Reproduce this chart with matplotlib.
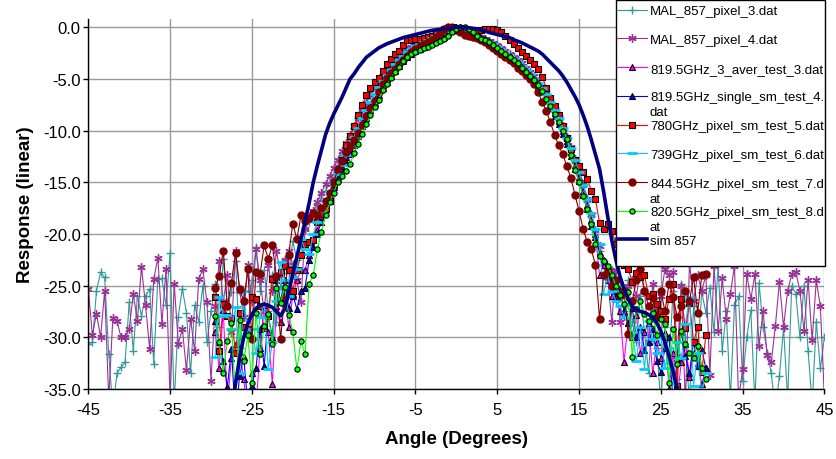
import numpy as np
import matplotlib
matplotlib.use("Agg")
import matplotlib.pyplot as plt
from matplotlib.ticker import FormatStrFormatter
from matplotlib.patches import Rectangle

plt.rcParams['font.family'] = ['Liberation Sans', 'DejaVu Sans']
plt.rcParams['axes.unicode_minus'] = False

# angle grids (degrees)
ang_mal = np.arange(-45, 45.01, 0.5)
ang_test = np.arange(-29.5, 30.51, 0.5)
ang_sim = np.arange(-27.5, 27.51, 0.5)

# MAL_857_pixel_3.dat
mal3 = [-30.6, -30.5, -25.5, -23.7, -24.2, -31.6, -37.0, -33.5, -32.9, -32.4,
        -26.6, -31.3, -26.0, -27.9, -26.0, -25.3, -32.6, -24.4, -24.3, -26.9,
        -21.8, -36.5, -28.0, -25.3, -27.6, -33.5, -26.9, -28.5, -25.0, -30.5,
        -27.5, -24.8, -29.0, -22.4, -27.0, -25.6, -22.6, -31.0, -26.5, -29.5,
        -24.5, -21.3, -25.5, -23.5, -27.5, -24.0, -28.5, -25.0, -22.5, -23.8,
        -20.7, -22.5, -21.0, -19.5, -18.8, -18.0, -17.2, -16.5, -15.8, -15.0,
        -14.2, -13.3, -12.4, -11.5, -10.6, -9.7, -8.8, -8.0, -7.2, -6.5,
        -5.8, -5.2, -4.6, -4.1, -3.6, -3.2, -2.8, -2.4, -2.1, -1.8,
        -1.6, -1.4, -1.2, -1.0, -0.8, -0.6, -0.4, -0.2, -0.1, 0.0,
        -0.1, -0.3, -0.5, -0.7, -0.8, -0.9, -1.0, -1.2, -1.4, -1.6,
        -1.8, -2.1, -2.4, -2.7, -3.0, -3.3, -3.7, -4.1, -4.5, -4.9,
        -5.4, -6.0, -6.7, -7.4, -8.2, -9.0, -9.9, -10.9, -11.9, -13.0,
        -14.2, -15.5, -16.9, -18.4, -20.0, -21.6, -23.0, -24.5, -23.5, -26.5,
        -25.0, -27.5, -24.5, -28.5, -30.5, -26.0, -29.5, -33.5, -27.0, -31.0,
        -36.5, -29.0, -32.5, -25.5, -34.0, -24.8, -30.0, -36.5, -27.0, -31.5,
        -25.6, -27.6, -25.2, -29.5, -23.1, -31.3, -27.5, -36.0, -26.9, -26.0,
        -34.2, -30.0, -27.4, -36.5, -24.7, -29.0, -31.5, -33.5, -37.0, -33.7,
        -29.1, -36.0, -25.0, -25.8, -30.0, -25.0, -31.3, -36.5, -28.5, -33.0,
        -30.0]

# MAL_857_pixel_4.dat
mal4 = [-25.3, -29.8, -27.7, -30.0, -25.5, -36.0, -28.1, -28.4, -30.0, -30.0,
        -29.2, -25.8, -28.4, -23.2, -26.9, -31.1, -24.4, -22.3, -28.7, -23.4,
        -36.0, -24.8, -30.6, -29.2, -33.2, -28.2, -31.3, -24.4, -23.4, -26.6,
        -34.2, -27.0, -22.6, -26.5, -24.0, -29.5, -21.6, -25.5, -28.0, -23.0,
        -26.5, -21.5, -24.5, -27.5, -23.0, -25.5, -21.6, -24.0, -22.5, -21.6,
        -23.0, -24.5, -26.6, -19.5, -18.5, -17.8, -16.9, -16.0, -15.2, -14.4,
        -13.6, -12.8, -12.0, -11.2, -10.4, -9.6, -8.8, -8.0, -7.3, -6.6,
        -5.9, -5.3, -4.7, -4.2, -3.7, -3.3, -2.9, -2.5, -2.2, -1.9,
        -1.7, -1.5, -1.3, -1.1, -0.9, -0.7, -0.5, -0.3, -0.1, 0.0,
        -0.1, -0.2, -0.4, -0.6, -0.7, -0.8, -0.9, -1.1, -1.3, -1.5,
        -1.7, -2.0, -2.3, -2.6, -2.9, -3.2, -3.5, -3.9, -4.3, -4.7,
        -5.2, -5.8, -6.4, -7.1, -7.9, -8.7, -9.6, -10.6, -11.6, -12.7,
        -13.9, -15.2, -16.6, -18.1, -19.6, -21.2, -22.8, -24.2, -28.5, -23.5,
        -28.5, -27.9, -25.0, -24.5, -26.0, -23.6, -25.5, -30.5, -24.8, -27.5,
        -26.0, -23.4, -24.0, -23.7, -31.8, -25.0, -36.5, -22.8, -26.5, -24.0,
        -25.5, -24.0, -33.6, -23.1, -29.4, -24.3, -28.2, -25.8, -23.1, -36.0,
        -33.1, -23.9, -26.3, -23.9, -30.8, -27.5, -31.7, -32.4, -28.9, -24.6,
        -29.0, -25.5, -23.9, -23.7, -25.5, -29.4, -24.5, -30.3, -24.5, -27.0,
        -36.0]

# 819.5GHz_3_aver_test_3.dat
aver3 = [-29.5, -33.0, -27.4, -36.5, -32.0, -30.6, -31.4, -34.0, -38.0, -33.5,
         -37.0, -31.0, -26.9, -29.5, -34.5, -27.0, -28.5, -25.5, -29.0, -26.0,
         -24.5, -23.5, -23.5, -22.0, -20.5, -19.6, -18.4, -17.2, -16.2, -15.3,
         -14.4, -13.5, -12.6, -11.8, -11.0, -10.1, -9.2, -8.4, -7.6, -6.9,
         -6.2, -5.6, -5.0, -4.4, -3.9, -3.5, -3.1, -2.7, -2.4, -2.1,
         -1.9, -1.7, -1.5, -1.3, -1.1, -0.9, -0.7, -0.4, -0.2, 0.0,
         0.0, -0.2, -0.4, -0.7, -0.9, -1.0, -1.2, -1.4, -1.6, -1.9,
         -2.2, -2.5, -2.8, -3.1, -3.4, -3.8, -4.2, -4.6, -5.0, -5.5,
         -6.1, -6.8, -7.5, -8.3, -9.1, -10.0, -11.0, -12.1, -13.3, -14.5,
         -15.8, -17.2, -18.6, -20.0, -24.0, -23.0, -24.5, -26.0, -25.5, -27.5,
         -32.4, -28.6, -30.0, -27.8, -31.5, -29.5, -28.6, -33.5, -30.5, -32.0,
         -29.6, -35.0, -31.5, -36.0, -32.4, -30.6, -33.8, -31.5, -32.5, -34.5,
         -33.0]

# 819.5GHz_single_sm_test_4.dat
single4 = [-28.4, -30.5, -32.3, -34.8, -31.1, -38.0, -33.7, -31.9, -36.5, -34.7,
           -33.0, -29.2, -32.8, -27.9, -30.0, -24.5, -26.5, -24.5, -27.2, -25.8,
           -27.3, -25.5, -25.2, -22.5, -21.3, -20.0, -18.8, -17.5, -16.4, -15.5,
           -14.6, -13.8, -13.0, -12.3, -11.4, -10.5, -9.6, -8.8, -8.0, -7.3,
           -6.6, -5.9, -5.3, -4.7, -4.2, -3.7, -3.3, -2.9, -2.6, -2.3,
           -2.1, -1.9, -1.7, -1.5, -1.3, -1.1, -0.9, -0.6, -0.3, -0.1,
           0.0, -0.1, -0.3, -0.6, -0.9, -1.0, -1.1, -1.3, -1.6, -1.9,
           -2.2, -2.5, -2.8, -3.1, -3.5, -3.9, -4.3, -4.7, -5.2, -5.7,
           -6.3, -7.0, -7.8, -8.6, -9.4, -10.3, -11.3, -12.5, -13.7, -14.9,
           -16.2, -17.6, -19.2, -20.3, -21.8, -22.5, -23.6, -24.5, -26.0, -25.4,
           -27.5, -28.6, -27.2, -30.0, -29.0, -31.2, -30.5, -29.2, -32.3, -33.4,
           -31.0, -30.0, -36.5, -32.0, -29.5, -31.8, -33.5, -30.4, -32.8, -31.2,
           -33.0]

# 780GHz_pixel_sm_test_5.dat
ghz780 = [-26.1, -31.3, -26.8, -27.9, -28.1, -31.5, -27.6, -29.0, -29.2, -26.1,
          -26.3, -27.0, -29.1, -27.9, -24.4, -24.2, -23.7, -23.1, -23.5, -25.5,
          -23.5, -22.0, -21.0, -20.8, -20.6, -18.8, -18.1, -17.6, -16.8, -15.2,
          -13.9, -12.8, -11.4, -10.5, -9.6, -8.5, -7.5, -6.6, -5.9, -5.3,
          -4.9, -4.2, -3.6, -3.1, -2.6, -2.3, -1.7, -1.2, -1.2, -1.1,
          -1.1, -1.0, -0.9, -0.8, -0.6, -0.4, -0.2, -0.05, 0.0, -0.2,
          -0.4, -0.6, -0.7, -0.6, -0.4, -0.3, -0.2, -0.2, -0.15, -0.25,
          -0.5, -0.8, -1.2, -1.6, -2.0, -2.4, -2.8, -3.2, -3.6, -4.0,
          -4.8, -5.9, -6.8, -7.6, -8.5, -9.6, -10.7, -11.8, -12.8, -13.4,
          -14.0, -14.7, -15.8, -16.6, -18.9, -19.5, -19.0, -19.7, -21.0, -22.7,
          -23.0, -23.4, -24.6, -23.8, -24.2, -24.0, -26.0, -25.8, -26.8, -27.5,
          -28.2, -26.3, -24.8, -34.7, -26.3, -29.1, -26.7, -30.5, -29.0, -33.4,
          -29.8]

# 739GHz_pixel_sm_test_6.dat
ghz739 = [-31.9, -26.1, -27.9, -27.8, -29.2, -27.1, -33.5, -25.5, -29.8, -29.2,
          -31.5, -28.0, -26.8, -33.1, -30.5, -26.5, -22.7, -24.5, -26.0, -24.2,
          -23.4, -20.5, -21.5, -21.9, -20.0, -18.8, -17.8, -16.8, -15.8, -15.0,
          -14.2, -13.3, -12.4, -11.5, -10.6, -9.7, -8.8, -8.0, -7.2, -6.5,
          -5.8, -5.2, -4.6, -4.1, -3.6, -3.2, -2.8, -2.4, -2.1, -1.8,
          -1.6, -1.4, -1.2, -1.0, -0.8, -0.6, -0.4, -0.2, 0.0, -0.1,
          -0.3, -0.5, -0.8, -0.9, -1.0, -1.1, -1.2, -1.4, -1.6, -1.9,
          -2.2, -2.5, -2.8, -3.1, -3.4, -3.7, -4.1, -4.5, -4.9, -5.4,
          -5.9, -6.5, -7.2, -8.0, -8.8, -9.7, -10.7, -11.7, -12.8, -14.0,
          -15.3, -16.6, -18.0, -19.5, -21.0, -25.8, -24.0, -25.5, -26.5, -27.0,
          -28.0, -26.8, -29.5, -32.3, -29.0, -33.1, -28.4, -30.2, -31.5, -29.8,
          -33.0, -31.0, -34.5, -30.5, -32.0, -28.7, -26.1, -34.7, -31.5, -35.5,
          -33.5]

# 844.5GHz_pixel_sm_test_7.dat
ghz844 = [-25.2, -24.1, -21.6, -27.0, -24.7, -21.8, -25.3, -26.5, -23.4, -30.2,
          -23.7, -23.9, -21.1, -22.4, -21.1, -24.1, -30.2, -26.1, -22.0, -19.0,
          -20.5, -18.2, -18.7, -18.5, -18.0, -18.2, -17.5, -16.8, -16.0, -15.0,
          -13.7, -12.9, -12.1, -11.5, -10.9, -10.2, -9.5, -8.6, -7.8, -7.1,
          -6.3, -5.5, -4.9, -4.4, -4.0, -3.6, -3.2, -2.8, -2.4, -2.1,
          -1.8, -1.6, -1.4, -1.2, -0.9, -0.6, -0.2, 0.0, -0.1, -0.3,
          -0.5, -0.7, -0.8, -0.9, -1.0, -1.2, -1.4, -1.7, -2.0, -2.3,
          -2.6, -2.9, -3.2, -3.5, -3.9, -4.2, -4.6, -5.0, -5.5, -6.3,
          -7.2, -8.1, -9.2, -10.4, -11.4, -12.3, -13.4, -14.6, -16.2, -17.8,
          -19.5, -20.8, -21.5, -23.0, -28.2, -24.0, -23.5, -25.0, -24.5, -26.0,
          -25.5, -29.7, -26.5, -24.5, -23.4, -25.5, -27.0, -26.2, -28.0, -25.5,
          -27.5, -24.8, -26.1, -28.0, -27.0, -25.5, -26.5, -24.2, -27.6, -24.0,
          -23.9]

# 820.5GHz_pixel_sm_test_8.dat
ghz820 = [-27.9, -30.5, -33.5, -30.4, -28.6, -36.0, -28.3, -32.3, -29.8, -34.4,
          -27.6, -31.6, -28.9, -27.7, -30.6, -25.2, -26.7, -25.1, -27.8, -29.5,
          -33.1, -30.4, -31.6, -24.8, -24.0, -21.5, -19.8, -18.2, -16.9, -16.0,
          -15.0, -14.4, -13.9, -13.2, -12.2, -11.3, -10.3, -9.4, -8.5, -7.7,
          -7.0, -6.1, -5.5, -4.9, -4.3, -3.8, -3.3, -2.9, -2.6, -2.4,
          -2.2, -2.0, -1.9, -1.7, -1.5, -1.3, -1.1, -0.8, -0.5, -0.2,
          0.0, 0.0, -0.2, -0.5, -0.8, -1.1, -1.2, -1.4, -1.7, -2.0,
          -2.3, -2.6, -2.9, -3.2, -3.5, -3.9, -4.3, -4.7, -5.1, -5.6,
          -6.2, -6.9, -7.6, -8.4, -9.2, -10.0, -10.8, -12.4, -13.8, -15.0,
          -16.3, -17.6, -19.0, -21.0, -22.1, -22.6, -23.1, -24.0, -25.0, -25.9,
          -26.8, -25.6, -31.9, -27.3, -26.5, -27.7, -28.4, -27.6, -29.8, -28.2,
          -28.7, -34.4, -29.2, -32.6, -29.4, -30.6, -31.5, -32.0, -30.8, -33.0,
          -34.0]

# sim 857
sim857 = [-37.0, -34.5, -32.0, -30.0, -28.7, -27.8, -27.2, -26.9, -26.8, -26.9,
          -27.1, -27.5, -27.9, -27.3, -25.6, -23.9, -22.2, -20.5, -18.8, -17.0,
          -15.0, -13.4, -11.9, -10.4, -9.3, -8.4, -7.6, -6.8, -5.9, -5.0,
          -4.5, -3.9, -3.4, -2.9, -2.6, -2.3, -2.0, -1.8, -1.6, -1.45,
          -1.3, -1.15, -1.0, -0.9, -0.8, -0.7, -0.6, -0.5, -0.4, -0.3,
          -0.25, -0.2, -0.15, -0.1, -0.05, 0.0, 0.0, 0.0, -0.05, -0.1,
          -0.15, -0.25, -0.35, -0.5, -0.6, -0.7, -0.8, -0.9, -1.0, -1.2,
          -1.35, -1.5, -1.7, -1.9, -2.1, -2.3, -2.6, -3.0, -3.4, -3.8,
          -4.2, -4.7, -5.3, -6.0, -6.7, -7.5, -8.5, -9.6, -10.9, -12.3,
          -13.7, -15.9, -18.3, -20.6, -22.5, -24.1, -25.3, -26.3, -27.0, -27.3,
          -27.5, -27.6, -27.8, -28.1, -28.6, -29.4, -30.5, -31.8, -33.3, -35.0,
          -36.8]

# legend labels: first line, and the wrapped remainder (if any)
names = ['MAL_857_pixel_3.dat', 'MAL_857_pixel_4.dat', '819.5GHz_3_aver_test_3.dat',
         '819.5GHz_single_sm_test_4.', '780GHz_pixel_sm_test_5.dat',
         '739GHz_pixel_sm_test_6.dat', '844.5GHz_pixel_sm_test_7.d',
         '820.5GHz_pixel_sm_test_8.d', 'sim 857']
wraps = ['', '', '', 'dat', '', '', 'at', 'at', '']

series = [
    (ang_mal, mal3, dict(color='#339999', marker='+', ms=6, mew=1.0)),
    (ang_mal, mal4, dict(color='#993399', marker=(6, 2, 0), ms=6, mew=1.0)),
    (ang_test, aver3, dict(color='#FF00FF', marker='^', ms=5, mfc='#FF00FF', mec='black', mew=0.8)),
    (ang_test, single4, dict(color='#0000FF', marker='^', ms=5, mfc='#0000FF', mec='black', mew=0.8)),
    (ang_test, ghz780, dict(color='#FF0000', marker='s', ms=5, mfc='#FF0000', mec='black', mew=0.8)),
    (ang_test, ghz739, dict(color='#00CCFF', marker='_', ms=7, mew=2.0)),
    (ang_test, ghz844, dict(color='#800000', marker='o', ms=5, mfc='#800000', mec='#800000')),
    (ang_test, ghz820, dict(color='#00FF00', marker='o', ms=3.8, mfc='#00FF00', mec='black', mew=0.8)),
]

fig = plt.figure(figsize=(8.37, 4.6), dpi=100)
ax = fig.add_axes([0.1055, 0.1522, 0.8795, 0.8043])

handles = []
for (x, y, st), name in zip(series, names):
    h, = ax.plot(x, y, lw=0.8, label=name, **st)
    handles.append(h)
h, = ax.plot(ang_sim, sim857, color='#000080', lw=2.6, label=names[-1])
handles.append(h)

ax.set_xlim(-45, 45)
ax.set_ylim(-35, 0.8)
ax.set_xticks(np.arange(-45, 46, 10))
ax.set_yticks(np.arange(-35, 0.1, 5))
ax.yaxis.set_major_formatter(FormatStrFormatter('%.1f'))
ax.grid(True, color='#999999', lw=1.0)
ax.set_axisbelow(True)
for s in ['top', 'right']:
    ax.spines[s].set_visible(False)
for s in ['left', 'bottom']:
    ax.spines[s].set_color('black')
    ax.spines[s].set_linewidth(1.0)
ax.tick_params(axis='both', direction='out', length=3.5, width=1, colors='black', labelsize=12)
ax.tick_params(axis='x', pad=6)
ax.tick_params(axis='y', pad=2)

ax.set_xlabel('Angle (Degrees)', fontsize=13.5, fontweight='bold', labelpad=9)
ax.set_ylabel('Response (linear)', fontsize=13.5, fontweight='bold', labelpad=6)

W, H = fig.get_size_inches() * fig.dpi

# legend box (white, black border) drawn under the legend entries
box = Rectangle((616 / W, 1 - 267 / H), (825 - 616) / W, (267 - 1) / H,
                transform=fig.transFigure, facecolor='white', edgecolor='black',
                lw=1.0, zorder=4.9, clip_on=False)
ax.add_patch(box)

leg = ax.legend(handles, names, loc='upper left',
                bbox_to_anchor=(617 / W, 1 - 6 / H), bbox_transform=fig.transFigure,
                fontsize=9.5, frameon=False, borderpad=0.0, labelspacing=1.25,
                handlelength=2.3, handletextpad=0.2, borderaxespad=0)

# wrapped label tails go just under their first line
fig.canvas.draw()
renderer = fig.canvas.get_renderer()
for t, extra in zip(leg.get_texts(), wraps):
    if extra:
        bb = t.get_window_extent(renderer)
        fig.text(bb.x0 / W, (bb.y0 - 3) / H, extra, fontsize=9.5, va='top', ha='left')

fig.savefig('out.png', dpi=100)
